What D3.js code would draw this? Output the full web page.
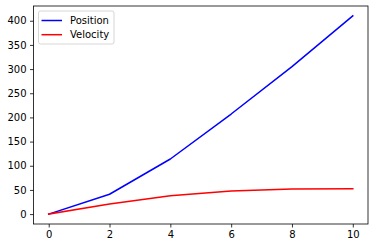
<!DOCTYPE html>
<html>
<head>
<meta charset="utf-8">
<script src="https://cdn.jsdelivr.net/npm/d3@7"></script>
<style>
  html, body { margin: 0; padding: 0; background: #fff; }
  svg { display: block; font-family: "DejaVu Sans", sans-serif; }
</style>
</head>
<body>
<svg id="chart" width="375" height="248"></svg>
<script>
const times = [0, 2, 4, 6, 8, 10];
const position = [0, 41, 114, 207, 305, 410];
const velocity = [0, 21, 38, 48, 52, 52.5];
const xTicks = [0, 2, 4, 6, 8, 10];
const yTicks = [0, 50, 100, 150, 200, 250, 300, 350, 400];
const seriesNames = ["Position", "Velocity"];
const seriesColors = ["#0000ff", "#ff0000"];

(function () {
const svg = d3.select("#chart");
const mLeft = 33.5, mRight = 368, mTop = 6, mBottom = 224;

const x = d3.scaleLinear().domain([-0.5, 10.5]).range([mLeft, mRight]);
const y = d3.scaleLinear().domain([-20.5, 430.5]).range([mBottom, mTop]);

const xAxis = d3.axisBottom(x).tickValues(xTicks).tickSize(3.5).tickPadding(3.5).tickFormat(d3.format("d"));
const yAxis = d3.axisLeft(y).tickValues(yTicks).tickSize(3.5).tickPadding(3.5).tickFormat(d3.format("d"));

const gx = svg.append("g").attr("transform", `translate(0,${mBottom})`).call(xAxis);
const gy = svg.append("g").attr("transform", `translate(${mLeft},0)`).call(yAxis);
[gx, gy].forEach(g => {
  g.select(".domain").remove();
  g.selectAll(".tick line").attr("stroke", "#000").attr("stroke-width", 0.8);
  g.selectAll(".tick text").attr("fill", "#000").style("font-size", "10px").style("font-family", "DejaVu Sans, sans-serif");
});

const data = [position, velocity];
const line = d3.line().x((d, i) => x(times[i])).y(d => y(d));
data.forEach((vals, k) => {
  svg.append("path")
    .datum(vals)
    .attr("fill", "none")
    .attr("stroke", seriesColors[k])
    .attr("stroke-width", 1.5)
    .attr("stroke-linejoin", "round")
    .attr("stroke-linecap", "square")
    .attr("d", line);
});

svg.append("rect")
  .attr("x", mLeft).attr("y", mTop)
  .attr("width", mRight - mLeft).attr("height", mBottom - mTop)
  .attr("fill", "none").attr("stroke", "#000").attr("stroke-width", 0.8);

const lg = svg.append("g");
lg.append("rect")
  .attr("x", 38.5).attr("y", 11).attr("width", 75.5).attr("height", 33)
  .attr("rx", 2).attr("ry", 2)
  .attr("fill", "#fff").attr("fill-opacity", 0.8)
  .attr("stroke", "#cccccc").attr("stroke-width", 0.8);
seriesNames.forEach((name, i) => {
  const yy = 20.5 + i * 14.2;
  lg.append("line")
    .attr("x1", 41.5).attr("x2", 62).attr("y1", yy).attr("y2", yy)
    .attr("stroke", seriesColors[i]).attr("stroke-width", 1.5);
  lg.append("text")
    .attr("x", 70).attr("y", yy + 3.6)
    .attr("fill", "#000")
    .style("font-size", "10px")
    .text(name);
});
})();
</script>
</body>
</html>
